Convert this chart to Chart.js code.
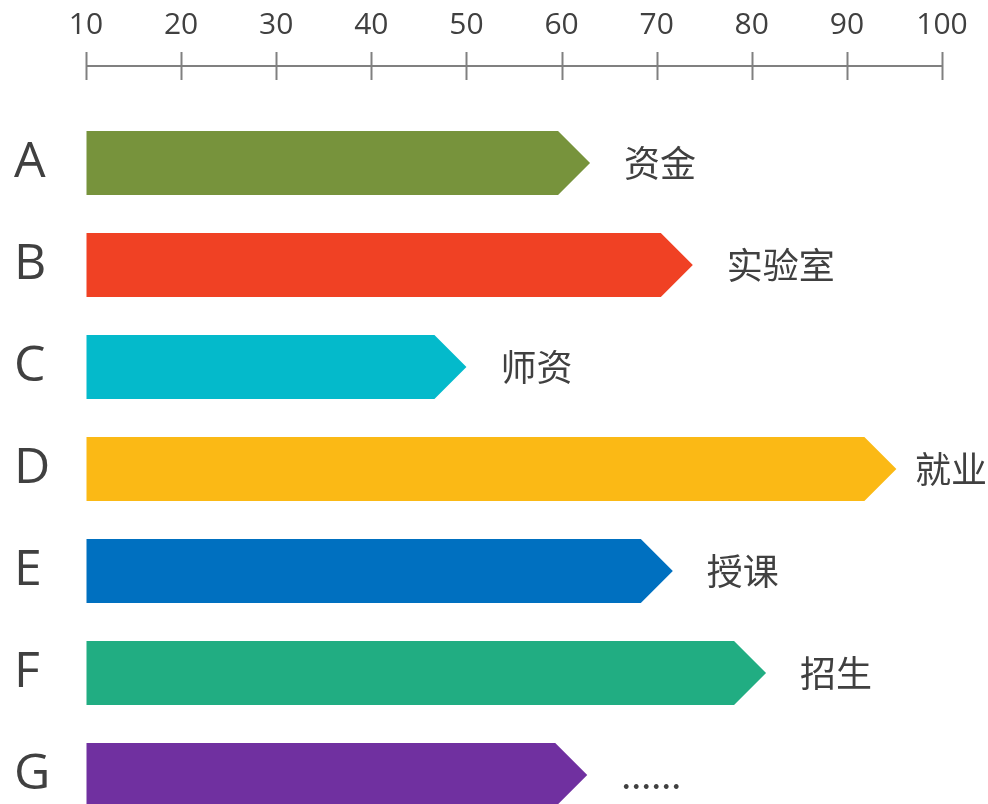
<!DOCTYPE html>
<html>
<head>
<meta charset="utf-8">
<script src="https://cdn.jsdelivr.net/npm/chart.js@4/dist/chart.umd.min.js"></script>
<style>
html,body{margin:0;padding:0;background:#fff;overflow:hidden;}
#wrap{width:988px;height:856px;}
</style>
</head>
<body>
<div id="wrap"><canvas id="c" width="988" height="856"></canvas></div>
<script>
const categories = ['A', 'B', 'C', 'D', 'E', 'F', 'G'];
const values = [63, 73.8, 50, 95.2, 71.7, 81.5, 62.7];
const barLabels = ['资金', '实验室', '师资', '就业', '授课', '招生', '......'];
const colors = ['#77933C', '#F04124', '#04BACB', '#FBB915', '#0070C0', '#21AD82', '#7030A0'];
const xTicks = [10, 20, 30, 40, 50, 60, 70, 80, 90, 100];

const TEXT = '#404040';

const arrowPlugin = {
  id: 'arrowBars',
  afterDatasetsDraw(chart) {
    const ctx = chart.ctx;
    const meta = chart.getDatasetMeta(0);
    meta.data.forEach((bar, i) => {
      const p = bar.getProps(['x', 'y', 'base', 'height'], true);
      const half = p.height / 2;
      const tip = p.x;
      const bodyEnd = tip - half;
      ctx.save();
      ctx.fillStyle = colors[i];
      ctx.beginPath();
      ctx.moveTo(p.base, p.y - half);
      ctx.lineTo(bodyEnd, p.y - half);
      ctx.lineTo(tip, p.y);
      ctx.lineTo(bodyEnd, p.y + half);
      ctx.lineTo(p.base, p.y + half);
      ctx.closePath();
      ctx.fill();
      ctx.fillStyle = TEXT;
      ctx.font = '36px "Noto Sans CJK SC", "Open Sans", sans-serif';
      ctx.textAlign = 'left';
      ctx.textBaseline = 'middle';
      const w = ctx.measureText(barLabels[i]).width;
      const tx = Math.min(tip + 34, chart.width - w - 1);
      ctx.fillText(barLabels[i], tx, p.y);
      ctx.restore();
    });
  }
};

const axisPlugin = {
  id: 'topAxisLine',
  afterDraw(chart) {
    const ctx = chart.ctx;
    const xs = chart.scales.x;
    const yLine = chart.chartArea.top - 46;
    ctx.save();
    ctx.strokeStyle = '#808080';
    ctx.lineWidth = 2;
    ctx.beginPath();
    ctx.moveTo(xs.getPixelForValue(xTicks[0]), yLine);
    ctx.lineTo(xs.getPixelForValue(xTicks[xTicks.length - 1]), yLine);
    ctx.stroke();
    xTicks.forEach(v => {
      const px = Math.round(xs.getPixelForValue(v)) + 0.5;
      ctx.beginPath();
      ctx.moveTo(px, yLine - 14);
      ctx.lineTo(px, yLine + 14);
      ctx.stroke();
    });
    ctx.restore();
  }
};

new Chart(document.getElementById('c'), {
  type: 'bar',
  data: {
    labels: categories,
    datasets: [{
      data: values,
      base: 10,
      backgroundColor: 'rgba(0,0,0,0)',
      borderWidth: 0,
      barThickness: 64
    }]
  },
  options: {
    indexAxis: 'y',
    responsive: false,
    animation: false,
    layout: { padding: { left: 14, right: 46, top: 0, bottom: 0 } },
    plugins: { legend: { display: false }, tooltip: { enabled: false } },
    scales: {
      x: {
        position: 'top',
        min: 10,
        max: 100,
        afterBuildTicks(scale) { scale.ticks = xTicks.map(v => ({ value: v })); },
        grid: {
          display: true,
          drawOnChartArea: false,
          drawTicks: true,
          tickLength: 69,
          tickColor: 'rgba(0,0,0,0)',
          color: 'rgba(0,0,0,0)'
        },
        border: { display: false },
        ticks: {
          color: TEXT,
          font: { family: '"Open Sans", "Noto Sans", sans-serif', size: 30 },
          padding: 0,
          maxRotation: 0
        },
        afterFit(scale) { scale.height = 112; }
      },
      y: {
        grid: { display: false },
        border: { display: false },
        ticks: {
          color: TEXT,
          crossAlign: 'far',
          padding: 0,
          font: { family: '"Open Sans", "Noto Sans", sans-serif', size: 50 }
        },
        afterFit(scale) { scale.width = 72; }
      }
    }
  },
  plugins: [arrowPlugin, axisPlugin]
});
</script>
</body>
</html>
